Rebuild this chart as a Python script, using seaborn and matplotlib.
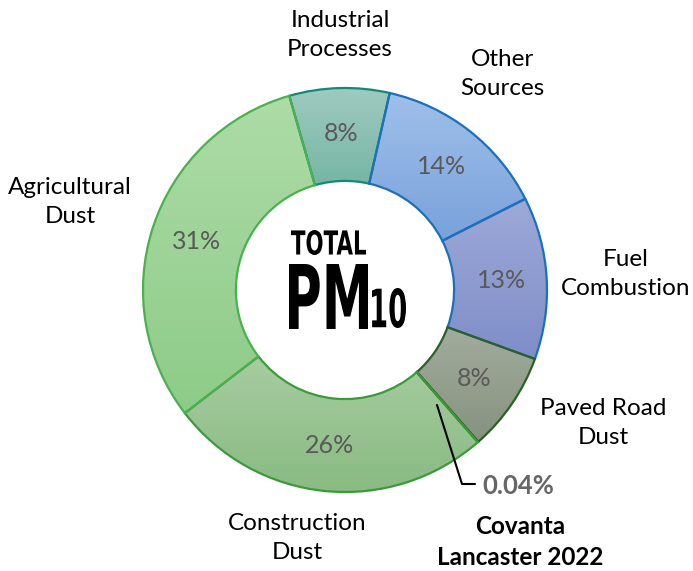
import numpy as np
import matplotlib
matplotlib.use("Agg")
import matplotlib.pyplot as plt
import matplotlib.colors as mcolors
from matplotlib.textpath import TextPath
from matplotlib.patches import PathPatch
from matplotlib.font_manager import FontProperties
from matplotlib.transforms import Affine2D
import seaborn as sns

# Dados
categorias = ["Industrial\nProcesses", "Other\nSources", "Fuel\nCombustion", "Paved Road\nDust",
              "Covanta\nLancaster 2022", "Construction\nDust", "Agricultural\nDust"]
valores = [8, 14, 13, 8, 0.04, 26, 31]
rotulos_pct = ["8%", "14%", "13%", "8%", "", "26%", "31%"]

# Cores (topo, base, borda)
cor_topo = ["#9ecbbf", "#9fbfe9", "#9ca9d8", "#a2ac9d", "#8a9a80", "#a7cca1", "#addca7"]
cor_base = ["#77b5a4", "#79a2db", "#7f8ec8", "#86927f", "#8a9a80", "#89bb82", "#8ecb88"]
cor_borda = ["#138a76", "#1b6fbc", "#1b6fbc", "#2d5f27", "#2d5f27", "#3c9a3a", "#4bb04f"]

sns.set_theme(style="white")
plt.rcParams["font.family"] = ["Lato", "DejaVu Sans"]

fig = plt.figure(figsize=(6.93, 5.71), dpi=100)
ax = fig.add_axes([0, 0, 1, 1])
ax.axis("off")

centro = (345, 281)
raio = 202
fatias, textos = ax.pie(valores, labels=rotulos_pct, startangle=106, counterclock=False,
                        center=centro, radius=raio, labeldistance=0.775,
                        wedgeprops=dict(width=raio * 0.46, linewidth=1.6),
                        textprops=dict(fontsize=18, color="#595959"))
ax.set_xlim(0, 693)
ax.set_ylim(0, 571)
ax.set_aspect("equal")

# Gradiente vertical em cada fatia
for w, c1, c2, cb in zip(fatias, cor_topo, cor_base, cor_borda):
    w.set_facecolor("none")
    w.set_edgecolor(cb)
    w.set_zorder(3)
    bb = w.get_path().get_extents()
    grad = np.linspace(0, 1, 64)[:, None]
    cmap = mcolors.LinearSegmentedColormap.from_list("g", [c1, c2])
    im = ax.imshow(grad, cmap=cmap, aspect="auto", origin="upper",
                   extent=(bb.x0, bb.x1, bb.y0, bb.y1), zorder=2)
    im.set_clip_path(w)

for t in textos:
    t.set_ha("center")
    t.set_va("center")
    t.set_zorder(5)

ax.set_xlim(0, 693)
ax.set_ylim(0, 571)

# Rótulos externos
pos_rotulos = [(340, 536), (502, 497), (626, 297), (603, 148), (520, 29), (297, 33), (70, 369)]
for cat, (x, y) in zip(categorias, pos_rotulos):
    peso = "bold" if cat.startswith("Covanta") else "normal"
    ax.text(x, y, cat, ha="center", va="center", fontsize=17.5, color="black",
            fontweight=peso, linespacing=1.45)

# Linha do 0,04%
ax.plot([437, 462, 475], [166, 87, 87], color="black", lw=1.5, zorder=6)
ax.text(482, 85, "0.04%", ha="left", va="center", fontsize=18.5, fontweight="bold", color="#666666")


# Texto central (fonte condensada simulada)
def texto_caixa(s, x0, x1, y0, y1):
    fp = FontProperties(family="DejaVu Sans", weight="bold")
    tp = TextPath((0, 0), s, size=10, prop=fp)
    e = tp.get_extents()
    tr = (Affine2D().translate(-e.x0, -e.y0)
          .scale((x1 - x0) / e.width, (y1 - y0) / e.height)
          .translate(x0, y0))
    ax.add_patch(PathPatch(tr.transform_path(tp), facecolor="black", edgecolor="none", zorder=7))


texto_caixa("TOTAL", 291, 366, 571 - 255, 571 - 230)
texto_caixa("PM", 289, 368, 571 - 329, 571 - 264)
texto_caixa("10", 372, 406, 571 - 328, 571 - 288)

fig.savefig("out.png", dpi=100)
